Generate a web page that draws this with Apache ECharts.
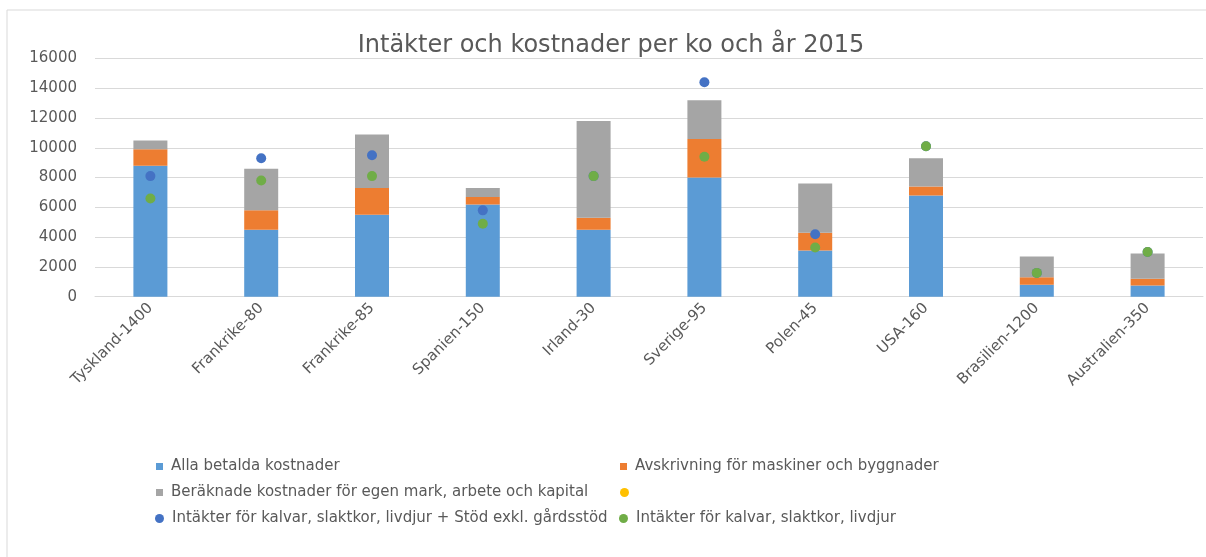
<!DOCTYPE html>
<html>
<head>
<meta charset="utf-8">
<script src="https://cdn.jsdelivr.net/npm/echarts@6/dist/echarts.min.js"></script>
<style>
html,body{margin:0;padding:0;background:#fff;}
#c{width:1206px;height:557px;}
</style>
</head>
<body>
<div id="c"></div>
<script>
const categories = ['Tyskland-1400','Frankrike-80','Frankrike-85','Spanien-150','Irland-30','Sverige-95','Polen-45','USA-160','Brasilien-1200','Australien-350'];
const seriesNames = [
  'Alla betalda kostnader',
  'Avskrivning för maskiner och byggnader',
  'Beräknade kostnader för egen mark, arbete och kapital',
  ' ',
  'Intäkter för kalvar, slaktkor, livdjur + Stöd exkl. gårdsstöd',
  'Intäkter för kalvar, slaktkor, livdjur'
];
const paidCosts    = [8800,4500,5500,6200,4500,8000,3100,6800,800,750];
const depreciation = [1100,1300,1800,500,800,2600,1200,600,500,450];
const calcCosts    = [600,2800,3600,600,6500,2600,3300,1900,1400,1700];
const emptySeries  = [];
const incomeWithSupport = [8100,9300,9500,5800,8100,14400,4200,10100,1600,3000];
const income       = [6600,7800,8100,4900,8100,9400,3300,10100,1600,3000];
const yTicks = {min:0, max:16000, interval:2000};

const colors = ['#5B9BD5','#ED7D31','#A5A5A5','#FFC000','#4472C4','#70AD47'];
const FONT = 'DejaVu Sans';
const txt = '#595959';

const chart = echarts.init(document.getElementById('c'), null, {renderer:'canvas'});

function leg(name, icon, left, top){
  return {
    data:[{name:name, icon:icon}],
    left:left, top:top, padding:0,
    itemWidth: icon==='rect'?7:9, itemHeight: icon==='rect'?7:9, itemGap:0,
    selectedMode:false,
    textStyle:{color:txt, fontFamily:FONT, fontSize:15, lineHeight:16, padding:[0,0,0,3]}
  };
}

chart.setOption({
  animation:false,
  backgroundColor:'#fff',
  color: colors,
  title:{
    text:'Intäkter och kostnader per ko och år 2015',
    left:611, textAlign:'center', top:34, padding:0,
    textStyle:{color:txt, fontFamily:FONT, fontSize:24, fontWeight:'normal'}
  },
  graphic:[{
    type:'rect', shape:{x:7, y:10, width:1220, height:570},
    style:{fill:'none', stroke:'#D9D9D9', lineWidth:1}, silent:true, z:-10
  }],
  legend:[
    leg(seriesNames[0],'rect',156,458.5),
    leg(seriesNames[1],'rect',620,458.5),
    leg(seriesNames[2],'rect',156,484.5),
    leg(seriesNames[3],'circle',620,484.5),
    leg(seriesNames[4],'circle',155,510.5),
    leg(seriesNames[5],'circle',619,510.5)
  ],
  grid:{left:95, right:3, top:58.5, bottom:260.3, containLabel:false},
  xAxis:{
    type:'category', data:categories,
    axisLine:{lineStyle:{color:'#D9D9D9'}},
    axisTick:{show:false},
    axisLabel:{rotate:45, color:txt, fontFamily:FONT, fontSize:15, margin:9, interval:0}
  },
  yAxis:{
    type:'value', min:yTicks.min, max:yTicks.max, interval:yTicks.interval,
    axisLine:{show:false}, axisTick:{show:false},
    splitLine:{lineStyle:{color:'#D9D9D9'}},
    axisLabel:{color:txt, fontFamily:FONT, fontSize:15, margin:18, formatter:function(v){return String(v);}}
  },
  series:[
    {name:seriesNames[0], type:'bar', stack:'c', data:paidCosts, barWidth:34, itemStyle:{color:colors[0]}},
    {name:seriesNames[1], type:'bar', stack:'c', data:depreciation, barWidth:34, itemStyle:{color:colors[1]}},
    {name:seriesNames[2], type:'bar', stack:'c', data:calcCosts, barWidth:34, itemStyle:{color:colors[2]}},
    {name:seriesNames[3], type:'scatter', data:emptySeries, symbolSize:10, itemStyle:{color:colors[3], opacity:1}},
    {name:seriesNames[4], type:'scatter', data:incomeWithSupport, symbolSize:10, itemStyle:{color:colors[4], opacity:1}, z:5},
    {name:seriesNames[5], type:'scatter', data:income, symbolSize:10, itemStyle:{color:colors[5], opacity:1}, z:6}
  ]
});
</script>
</body>
</html>
